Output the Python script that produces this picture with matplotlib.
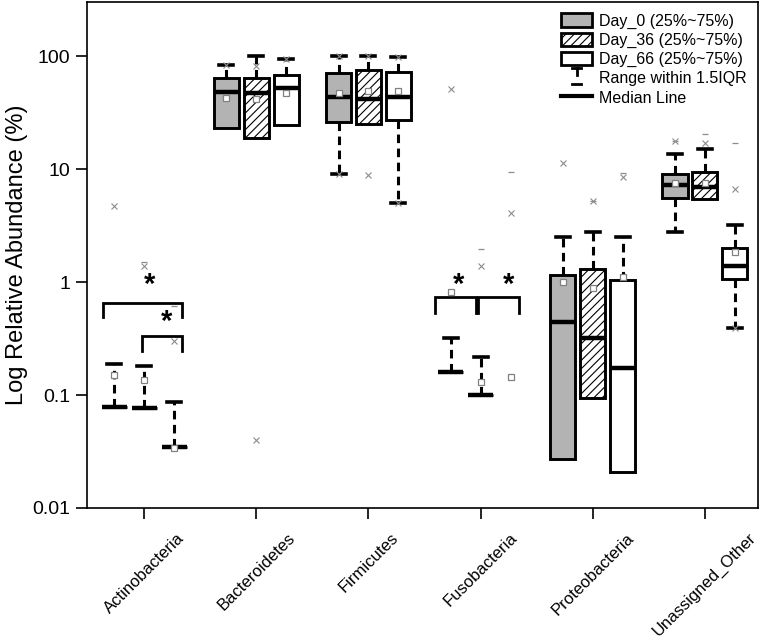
import numpy as np
import matplotlib.pyplot as plt
from matplotlib.patches import Patch
from matplotlib.lines import Line2D
from matplotlib.legend_handler import HandlerBase
from matplotlib.ticker import NullLocator

plt.rcParams['font.family'] = ['Liberation Sans', 'DejaVu Sans']
plt.rcParams['hatch.linewidth'] = 0.8

categories = ['Actinobacteria', 'Bacteroidetes', 'Firmicutes',
              'Fusobacteria', 'Proteobacteria', 'Unassigned_Other']
days = ['Day_0', 'Day_36', 'Day_66']
nan = np.nan

# box stats per day (values in %)
q1 = [[0.078, 23, 26, 0.16, 0.027, 5.6],
      [0.076, 19, 25, 0.10, 0.095, 5.4],
      [0.035, 24.7, 27, nan, 0.021, 1.07]]
med = [[0.078, 48, 43.5, 0.16, 0.44, 7.2],
       [0.076, 47, 42, 0.10, 0.32, 6.9],
       [0.035, 52, 43.5, nan, 0.175, 1.4]]
q3 = [[0.078, 64, 71, 0.16, 1.15, 9.1],
      [0.076, 64, 75, 0.10, 1.3, 9.5],
      [0.035, 68, 72, nan, 1.05, 2.0]]
whislo = [[0.078, 23, 9.1, 0.16, 0.027, 2.8],
          [0.076, 19, 25, 0.10, 0.095, 5.4],
          [0.035, 24.7, 5.0, nan, 0.021, 0.39]]
whishi = [[0.19, 83, 100, 0.32, 2.5, 13.6],
          [0.18, 100, 100, 0.215, 2.75, 15],
          [0.087, 94, 98, nan, 2.5, 3.2]]
means = [[0.15, 42.5, 47, 0.82, 1.0, 7.6],
         [0.135, 42, 49, 0.13, 0.88, 7.6],
         [0.034, 47, 49, 0.145, 1.1, 1.85]]

# 1%/99% marks (x) and min/max marks (-)
pct_marks = [[[4.7], [83], [100, 9.1], [51], [11.4], [17.7]],
             [[1.38], [82, 0.04], [100, 8.8], [1.38], [5.25], [17.0]],
             [[0.30], [94], [98, 5.0], [4.1], [8.6], [6.7, 0.39]]]
mm_marks = [[[], [], [], [], [], [17.7]],
            [[1.5], [], [], [1.96], [5.25], [20.5]],
            [[0.62], [], [], [9.5], [9.3], [17.0]]]

# significance brackets
br_x0 = [0.634, 0.98, 3.594, 3.977]
br_x1 = [1.34, 1.34, 3.959, 4.342]
br_top = [0.652, 0.333, 0.736, 0.736]
br_leg = [0.49, 0.245, 0.532, 0.532]
star_x = [1.05, 1.2, 3.8, 4.25]
star_y = [0.95, 0.44, 0.95, 0.95]

offsets = [-0.267, 0, 0.267]
fills = ['#b3b3b3', 'white', 'white']
hatches = [None, '////', None]

fig = plt.figure(figsize=(7.62, 6.41), dpi=100)
ax = fig.add_axes([0.1142, 0.2075, 0.880, 0.789])
ax.set_yscale('log')

for d in range(3):
    stats = []
    pos = []
    for i in range(len(categories)):
        if np.isnan(q1[d][i]):
            continue
        stats.append(dict(med=med[d][i], q1=q1[d][i], q3=q3[d][i],
                          whislo=whislo[d][i], whishi=whishi[d][i], fliers=[]))
        pos.append(i + 1 + offsets[d])
    bp = ax.bxp(stats, positions=pos, widths=0.225, capwidths=0.125,
                patch_artist=True, showfliers=False, manage_ticks=False,
                boxprops=dict(facecolor=fills[d], edgecolor='black', linewidth=2.1,
                              hatch=hatches[d]),
                whiskerprops=dict(color='black', linewidth=2.2,
                                  linestyle=(0, (2.8, 1.8))),
                capprops=dict(color='black', linewidth=2.6),
                medianprops=dict(color='black', linewidth=3.2))
    # no cap where the whisker has zero length
    for j, st in enumerate(stats):
        if st['whislo'] >= st['q1']:
            bp['caps'][2 * j].set_visible(False)
        if st['whishi'] <= st['q3']:
            bp['caps'][2 * j + 1].set_visible(False)
    xs = np.arange(1, len(categories) + 1) + offsets[d]
    ax.plot(xs, means[d], 's', mfc='white', mec='#808080', ms=4.5, mew=0.9,
            zorder=5)
    for i in range(len(categories)):
        p = pct_marks[d][i]
        ax.plot([xs[i]] * len(p), p, 'x', color='#8c8c8c', ms=5, mew=0.8, zorder=5)
        m = mm_marks[d][i]
        ax.plot([xs[i]] * len(m), m, '_', color='#8c8c8c', ms=5, mew=0.9, zorder=5)

for k in range(len(br_x0)):
    ax.plot([br_x0[k], br_x0[k], br_x1[k], br_x1[k]],
            [br_leg[k], br_top[k], br_top[k], br_leg[k]],
            color='black', lw=2, solid_joinstyle='miter')
    ax.text(star_x[k], star_y[k], '*', fontsize=21, fontweight='bold',
            ha='center', va='center')

ax.set_xlim(0.49, 6.47)
ax.set_ylim(0.01, 300)
ax.set_xticks(np.arange(1, len(categories) + 1))
ax.set_xticklabels(categories, rotation=45, ha='center', fontsize=12)
ax.set_yticks([0.01, 0.1, 1, 10, 100])
ax.set_yticklabels(['0.01', '0.1', '1', '10', '100'], fontsize=14)
ax.yaxis.set_minor_locator(NullLocator())
ax.tick_params(axis='x', direction='out', length=8, width=1.2, pad=8)
ax.tick_params(axis='y', direction='out', length=8, width=1.2, pad=4)
ax.set_ylabel('Log Relative Abundance (%)', fontsize=17, labelpad=3)
for s in ax.spines.values():
    s.set_linewidth(1.2)


class RangeHandler(HandlerBase):
    def create_artists(self, legend, orig, xd, yd, w, h, fontsize, trans):
        cx = xd + w / 2
        a = Line2D([cx - w * 0.14, cx + w * 0.14], [yd + h * 1.05] * 2, color='k', lw=2)
        b = Line2D([cx, cx], [yd + h * 1.05, yd + h * 0.55], color='k', lw=2)
        c = Line2D([cx - w * 0.14, cx + w * 0.14], [yd - h * 0.1] * 2, color='k', lw=2)
        for ln in (a, b, c):
            ln.set_transform(trans)
        return [a, b, c]


range_handle = Line2D([], [])
handles = [Patch(facecolor=fills[0], edgecolor='k', lw=2),
           Patch(facecolor='white', edgecolor='k', hatch='////', lw=2),
           Patch(facecolor='white', edgecolor='k', lw=2),
           range_handle,
           Line2D([], [], color='k', lw=3)]
labels = [days[0] + ' (25%~75%)', days[1] + ' (25%~75%)', days[2] + ' (25%~75%)',
          'Range within 1.5IQR', 'Median Line']
ax.legend(handles, labels, loc='upper right', frameon=False, fontsize=11.5,
          handlelength=1.95, handleheight=0.9, labelspacing=0.25,
          handletextpad=0.4, borderaxespad=0.3,
          handler_map={range_handle: RangeHandler()})

fig.savefig('out.png', dpi=100)
